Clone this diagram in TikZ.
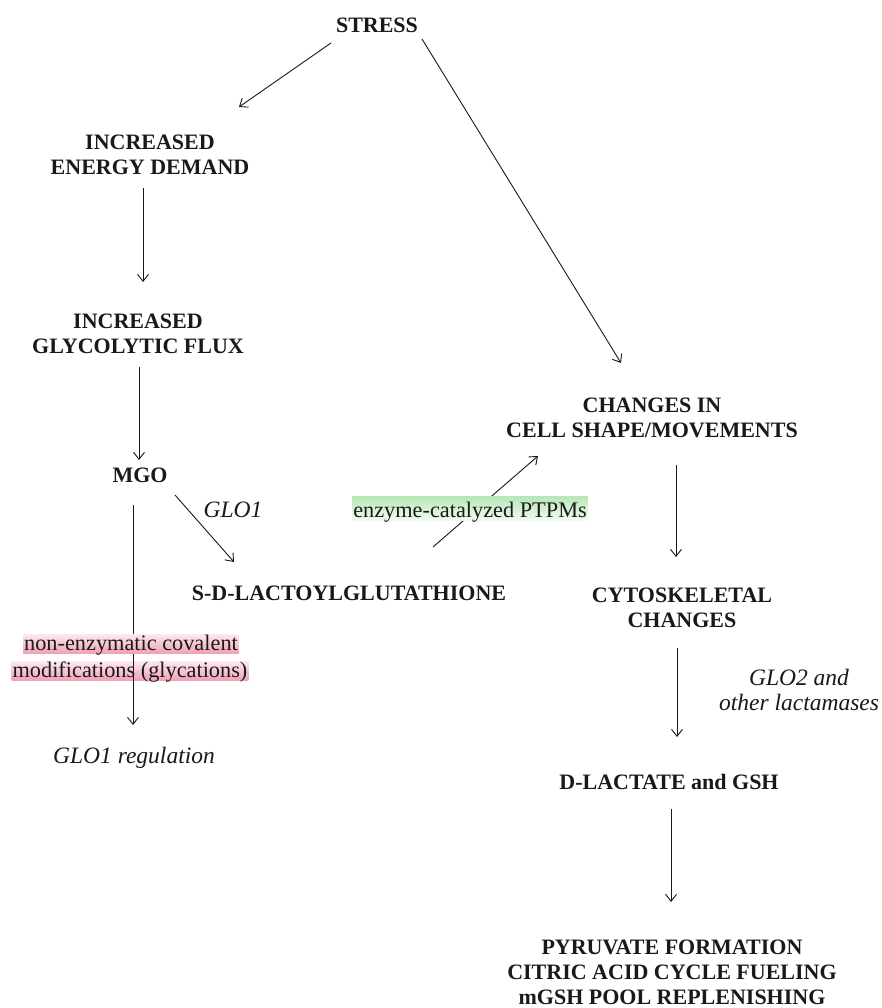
\documentclass[tikz,border=0pt]{standalone}
\usepackage{fontspec}
\setmainfont{Liberation Serif}
\usetikzlibrary{arrows.meta,calc}
\definecolor{pinkhi}{RGB}{240,162,182}
\definecolor{pinklo}{RGB}{253,234,239}
\definecolor{greenhi}{RGB}{182,230,182}
\definecolor{greenlo}{RGB}{240,251,240}
\definecolor{ink}{RGB}{25,25,25}

\begin{document}
\begin{tikzpicture}[x=1pt,y=-1pt]
  \tikzstyle{every node}+=[inner sep=0pt, text=ink]
  \tikzstyle{stage}=[font=\fontsize{22}{25}\selectfont\bfseries, align=center]
  \tikzstyle{enz}=[font=\fontsize{23.5}{25}\selectfont\itshape, align=center]
  \tikzstyle{pinkhl}=[font=\fontsize{22.3}{25}\selectfont, inner xsep=1pt, text height=16pt, text depth=3pt, top color=pinklo, bottom color=pinkhi]
  \tikzstyle{greenhl}=[font=\fontsize{22.3}{25}\selectfont, inner xsep=1pt, text height=21pt, text depth=3pt, top color=greenhi, bottom color=greenlo]
  \tikzstyle{flow}=[draw=ink, line width=0.9pt, -{Straight Barb[length=7pt,width=11pt]}]

  \fill[white] (0,0) rectangle (882,1008);
  \useasboundingbox (0,0) rectangle (882,1008);

  \node[stage] (stress) at (377,25) {STRESS};
  \node[stage] (energy) at (150,154.5) {INCREASED\\ENERGY DEMAND};
  \node[stage] (glyco) at (138,333.5) {INCREASED\\GLYCOLYTIC FLUX};
  \node[stage] (mgo) at (140,475) {MGO};
  \node[stage] (sdl) at (349,593) {S-D-LACTOYLGLUTATHIONE};
  \node[stage] (changes) at (652,417.5) {CHANGES IN\\CELL SHAPE/MOVEMENTS};
  \node[stage] (cyto) at (682,607.5) {CYTOSKELETAL\\CHANGES};
  \node[stage] (dlac) at (669,782) {D-LACTATE and GSH};
  \node[stage] (pyr) at (672,972.5) {PYRUVATE FORMATION\\CITRIC ACID CYCLE FUELING\\mGSH POOL REPLENISHING};

  \node[enz, anchor=base] (glo1) at (233,517) {GLO1};
  \node[enz, anchor=base] (reg) at (134,763) {GLO1 regulation};
  \node[enz] (glo2) at (799,690) {GLO2 and\\other lactamases};
  \node[pinkhl] (glyc2) at (130,670.5) {modifications (glycations)};

  \draw[flow] ($(stress)+(-46,18)$) -- ($(energy)+(89,-47.5)$);
  \draw[flow] ($(stress)+(45,14)$) -- ($(changes)+(-31,-54.5)$);
  \draw[flow] ($(energy)+(-7,33.5)$) -- ($(glyco)+(5,-51.5)$);
  \draw[flow] ($(glyco)+(1,33.5)$) -- ($(mgo)+(-1,-15)$);
  \draw[flow] ($(mgo)+(35,20)$) -- ($(sdl)+(-115,-31)$);
  \draw[flow] ($(mgo)+(-7,30)$) -- ($(reg.base)+(-1,-38)$);
  \draw[flow] ($(sdl)+(84,-46)$) -- ($(changes)+(-114,38.5)$);
  \draw[flow] ($(changes)+(24,47.5)$) -- ($(cyto)+(-6,-50.5)$);
  \draw[flow] ($(cyto)+(-5,40.5)$) -- ($(dlac)+(8,-45)$);
  \draw[flow] ($(dlac)+(2,27)$) -- ($(pyr)+(-1,-70.5)$);

  \node[pinkhl] (glyc1) at (131,643.5) {non-enzymatic covalent};
  \node[greenhl] (ptpm) at (470,508) {enzyme-catalyzed PTPMs};
\end{tikzpicture}
\end{document}
